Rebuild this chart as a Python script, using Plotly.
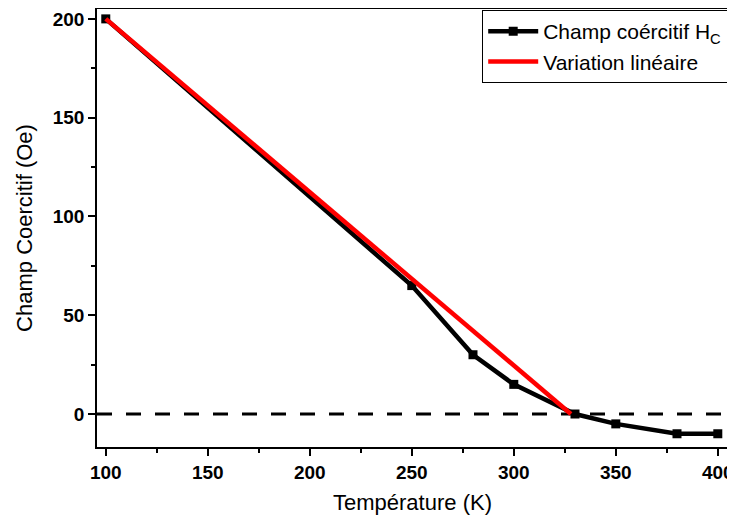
import plotly.graph_objects as go

temperature = [100, 250, 280, 300, 330, 350, 380, 400]
coercive_field = [200, 65, 30, 15, 0, -5, -10, -10]
linear_x = [100, 328]
linear_y = [200, 0]
zero_x = [95.7, 405]
zero_y = [0, 0]
x_tick_values = [100, 150, 200, 250, 300, 350, 400]
y_tick_values = [0, 50, 100, 150, 200]

FONT = "Arial, Liberation Sans, sans-serif"

fig = go.Figure()
fig.add_trace(go.Scatter(x=zero_x, y=zero_y, mode="lines", showlegend=False,
                         line=dict(color="black", width=2.8, dash="15px,14px"), hoverinfo="skip"))
fig.add_trace(go.Scatter(x=temperature, y=coercive_field, mode="lines+markers",
                         name="Champ coércitif H<sub>C</sub>",
                         line=dict(color="black", width=4.5),
                         marker=dict(symbol="square", size=9, color="black")))
fig.add_trace(go.Scatter(x=linear_x, y=linear_y, mode="lines", name="Variation linéaire",
                         line=dict(color="#ff0000", width=4.5)))

axis_common = dict(showline=True, linecolor="black", linewidth=1.5, mirror=True,
                   ticks="outside", ticklen=7, tickwidth=1.5, tickcolor="black",
                   showgrid=False, zeroline=False,
                   tickfont=dict(family=FONT, size=19, color="black"))

fig.update_layout(
    width=727, height=511,
    margin=dict(l=89, r=7, t=1, b=72, autoexpand=False),
    plot_bgcolor="white", paper_bgcolor="white",
    font=dict(family=FONT, color="black"),
    xaxis=dict(range=[95.7, 405],
               tickmode="array", tickvals=x_tick_values,
               ticktext=[f"<b>{v}</b>" for v in x_tick_values],
               title=dict(text="Température (K)", font=dict(family=FONT, size=22), standoff=13),
               minor=dict(ticks="outside", ticklen=4, dtick=25, tick0=100, tickcolor="black", tickwidth=1.5),
               automargin=False,
               **axis_common),
    yaxis=dict(range=[-16.7, 205],
               tickmode="array", tickvals=y_tick_values,
               ticktext=[f"<b>{v}</b>" for v in y_tick_values],
               title=dict(text="Champ Coercitif (Oe)", font=dict(family=FONT, size=22), standoff=14),
               minor=dict(ticks="outside", ticklen=4, dtick=25, tick0=0, tickcolor="black", tickwidth=1.5),
               automargin=False,
               **axis_common),
    legend=dict(x=1.0, y=0.998, xanchor="right", yanchor="top",
                bordercolor="black", borderwidth=1.2, bgcolor="white",
                font=dict(family=FONT, size=21, color="black"),
                itemwidth=50, tracegroupgap=0),
)

fig.write_html("out.html")
